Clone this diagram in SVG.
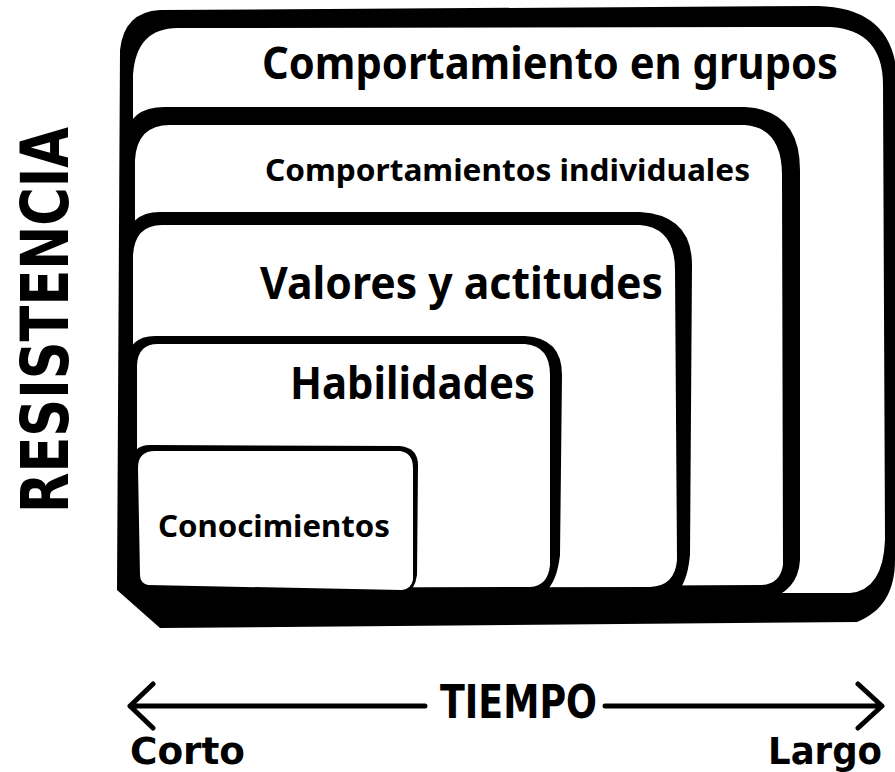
<svg xmlns="http://www.w3.org/2000/svg" width="895" height="772" viewBox="0 0 895 772">
<style>
.blk{fill:#000}
.wht{fill:#fff}
.lbl{font-family:"Noto Sans","Open Sans","DejaVu Sans",sans-serif;font-weight:bold;fill:#000}
.geo{font-family:"DejaVu Sans","Liberation Sans",sans-serif;font-weight:bold;fill:#000}
.cond{font-family:"DejaVu Sans Condensed","DejaVu Sans","Liberation Sans",sans-serif;font-weight:bold;fill:#000}
.ln{fill:none;stroke:#000;stroke-width:5;stroke-linecap:round;stroke-linejoin:round}
</style>
<rect width="895" height="772" fill="#fff"/>
<g id="grupos">
<path class="blk" d="M160,628 L857,622 C882,612 895,592 895,560 L897,80 Q895,8 818,6 L160,10 Q124,12 120,50 L117,590 Z"/>
<path class="wht" d="M133,75 Q136,28 178,28 L830,27 Q883,30 883,85 L885,540 Q883,590 850,593 L133,593 Z"/>
<text class="lbl" x="262" y="79" font-size="44" textLength="576" lengthAdjust="spacingAndGlyphs">Comportamiento en grupos</text>
</g>
<g id="individuales">
<path class="blk" d="M131,598 L125,140 Q128,107 165,107 L745,107 Q800,110 800,170 L800,560 Q798,592 765,600 Z"/>
<path class="wht" d="M135,160 Q137,125 170,125 L745,125 Q782,128 782,175 L783,565 Q780,585 760,585 L135,588 Z"/>
<text class="lbl" x="265" y="181" font-size="31" textLength="485" lengthAdjust="spacingAndGlyphs">Comportamientos individuales</text>
</g>
<g id="valores">
<path class="blk" d="M131,598 L125,245 Q128,212 160,212 L640,212 Q692,215 692,265 L690,555 Q687,585 676,592 Z"/>
<path class="wht" d="M133,255 Q135,225 162,225 L640,225 Q675,228 675,270 L677,560 Q675,586 650,587 L133,588 Z"/>
<text class="lbl" x="260" y="299" font-size="45" textLength="403" lengthAdjust="spacingAndGlyphs">Valores y actitudes</text>
</g>
<g id="habilidades">
<path class="blk" d="M131,598 L125,365 Q128,336 155,336 L525,336 Q562,338 562,375 L560,555 Q557,582 545,592 Z"/>
<path class="wht" d="M137,365 Q138,344 158,344 L525,344 Q550,346 550,375 L550,565 Q548,586 530,587 L137,588 Z"/>
<text class="lbl" x="290" y="399" font-size="44" textLength="245" lengthAdjust="spacingAndGlyphs">Habilidades</text>
</g>
<g id="conocimientos">
<path class="blk" d="M131,598 L130,465 Q132,445 150,445 L400,446 Q418,448 418,465 L417,575 Q415,590 405,594 Z"/>
<path class="wht" d="M138,468 Q138,451 155,451 L400,451 Q413,453 413,468 L413,580 Q411,589 402,590 L148,585 Q140,583 140,575 Z"/>
<text class="lbl" x="158" y="537" font-size="30" textLength="232" lengthAdjust="spacingAndGlyphs">Conocimientos</text>
</g>
<g id="resistencia">
<text class="geo" transform="translate(68,513) rotate(-90)" x="0" y="0" font-size="66" textLength="386" lengthAdjust="spacingAndGlyphs">RESISTENCIA</text>
</g>
<g id="connectors">
<path class="ln" d="M130,706 L425,706 M153,684 L130,706 L153,728"/>
<path class="ln" d="M605,706 L880,706 M858,684 L882,706 L858,728"/>
</g>
<g id="tiempo">
<text class="cond" x="440" y="718" font-size="46" textLength="157" lengthAdjust="spacingAndGlyphs">TIEMPO</text>
<text class="cond" x="130" y="764" font-size="38" textLength="115" lengthAdjust="spacingAndGlyphs">Corto</text>
<text class="cond" x="768" y="764" font-size="38" textLength="114" lengthAdjust="spacingAndGlyphs">Largo</text>
</g>
</svg>
